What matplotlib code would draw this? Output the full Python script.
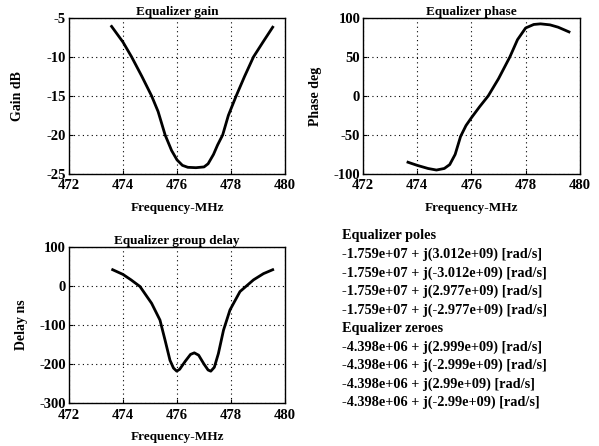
import matplotlib
matplotlib.use("Agg")
import matplotlib.pyplot as plt

plt.rcParams['font.family'] = ['Liberation Serif', 'DejaVu Serif']
plt.rcParams['font.weight'] = 'bold'
plt.rcParams['axes.unicode_minus'] = False

# gain (dB) vs frequency (MHz)
gain_f = [473.58, 474.0, 474.32, 474.7, 475.06, 475.3, 475.56, 475.8, 476.0, 476.2,
          476.4, 476.7, 477.0, 477.15, 477.35, 477.5, 477.69, 477.9, 478.19, 478.5,
          478.83, 479.2, 479.54]
gain_db = [-6.1, -8.1, -10, -12.5, -15, -17, -20, -22, -23.2, -23.9,
           -24.15, -24.2, -24.1, -23.7, -22.5, -21.3, -20, -17.5, -15, -12.5,
           -10, -8, -6.2]

# phase (deg)
phase_f = [473.66, 474.0, 474.4, 474.71, 475.0, 475.2, 475.4, 475.6, 475.8, 476.0,
           476.3, 476.62, 477.0, 477.42, 477.7, 478.0, 478.3, 478.55, 478.9, 479.2, 479.6]
phase_deg = [-85, -89, -93, -95, -93, -88, -75, -52, -38, -28,
             -14, 0, 22, 50, 72, 87, 91.5, 92.3, 91, 88, 82]

# group delay (ns)
delay_f = [473.62, 474.0, 474.3, 474.63, 475.06, 475.37, 475.56, 475.74, 475.87, 475.99,
           476.1, 476.3, 476.5, 476.64, 476.8, 477.0, 477.15, 477.25, 477.38, 477.53,
           477.72, 477.96, 478.33, 478.83, 479.2, 479.54]
delay_ns = [42, 30, 16, -1, -44, -87, -139, -190, -210, -218,
            -213, -193, -175, -171, -177, -200, -215, -218, -208, -173,
            -113, -61, -14, 16, 32, 42]

poles = ["-1.759e+07 + j(3.012e+09) [rad/s]",
         "-1.759e+07 + j(-3.012e+09) [rad/s]",
         "-1.759e+07 + j(2.977e+09) [rad/s]",
         "-1.759e+07 + j(-2.977e+09) [rad/s]"]
zeros = ["-4.398e+06 + j(2.999e+09) [rad/s]",
         "-4.398e+06 + j(-2.999e+09) [rad/s]",
         "-4.398e+06 + j(2.99e+09) [rad/s]",
         "-4.398e+06 + j(-2.99e+09) [rad/s]"]

fig = plt.figure(figsize=(5.99, 4.46), dpi=100)

def setup(ax, title, ylabel, ylim, yticks, ylab_x):
    ax.set_xlim(472, 480)
    ax.set_xticks([472, 474, 476, 478, 480])
    ax.set_ylim(*ylim)
    ax.set_yticks(yticks)
    ax.set_title(title, fontsize=9.5, fontweight='bold', pad=1)
    ax.set_xlabel("Frequency-MHz", fontsize=9.5, fontweight='bold', labelpad=7)
    ax.set_ylabel(ylabel, fontsize=10, fontweight='bold')
    ax.yaxis.set_label_coords(ylab_x, 0.5)
    ax.tick_params(direction='in', length=3, width=0.8, labelsize=10.5)
    ax.tick_params(axis='x', pad=4)
    ax.tick_params(axis='y', pad=2)
    for lab in ax.get_xticklabels() + ax.get_yticklabels():
        lab.set_fontweight('bold')
    ax.grid(True, linestyle=(0, (1, 3)), color='black', linewidth=0.8)
    for s in ax.spines.values():
        s.set_linewidth(1.0)

ax1 = fig.add_axes([0.115, 0.610, 0.361, 0.350])
ax1.plot(gain_f, gain_db, color='black', linewidth=2.0)
setup(ax1, "Equalizer gain", "Gain dB", (-25, -5), [-25, -20, -15, -10, -5], -0.208)

ax2 = fig.add_axes([0.606, 0.610, 0.362, 0.350])
ax2.plot(phase_f, phase_deg, color='black', linewidth=2.0)
setup(ax2, "Equalizer phase", "Phase deg", (-100, 100), [-100, -50, 0, 50, 100], -0.189)

ax3 = fig.add_axes([0.115, 0.096, 0.361, 0.350])
ax3.plot(delay_f, delay_ns, color='black', linewidth=2.0)
setup(ax3, "Equalizer group delay", "Delay ns", (-300, 100), [-300, -200, -100, 0, 100], -0.190)

lines = ["Equalizer poles"] + poles + ["Equalizer zeroes"] + zeros
for i, t in enumerate(lines):
    fig.text(0.571, 0.471 - i * 0.0415, t, fontsize=10.3, fontweight='bold',
             ha='left', va='center')

fig.savefig("out.png", dpi=100)
